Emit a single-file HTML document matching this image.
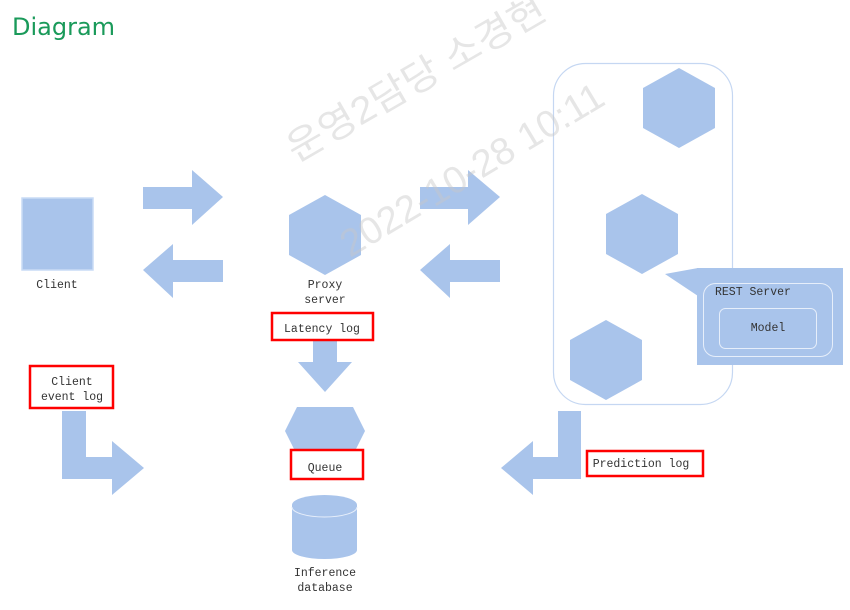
<!DOCTYPE html>
<html><head><meta charset="utf-8"><style>
html,body{margin:0;padding:0;background:#fff;width:850px;height:610px;overflow:hidden}
svg{display:block}
.m{font-family:"Liberation Mono",monospace;font-size:11.5px;fill:#333}
</style></head><body>
<svg width="850" height="610" viewBox="0 0 850 610" xmlns="http://www.w3.org/2000/svg">
<text x="12" y="35" font-family="DejaVu Sans, sans-serif" font-size="24" fill="#1a9a5a">Diagram</text>
<g fill="#a9c4eb">
<rect x="22" y="198" width="71" height="72" stroke="#c9dbf5" stroke-width="1.5"/>
<polygon points="143,187 192,187 192,170 223,197 192,225 192,209 143,209"/>
<polygon points="143,270 173,244 173,260 223,260 223,282 173,282 173,298"/>
<polygon points="325,195 361,215 361,255 325,275 289,255 289,215"/>
<polygon points="420,187 468,187 468,170 500,197 468,225 468,209 420,209"/>
<polygon points="420,270 450,244 450,260 500,260 500,282 450,282 450,298"/>
</g>
<rect x="553.5" y="63.5" width="179" height="341" rx="32" fill="none" stroke="#c5d7f2" stroke-width="1.2"/>
<g fill="#a9c4eb">
<polygon points="679,68 715,88 715,128 679,148 643,128 643,88"/>
<polygon points="642,194 678,214 678,254 642,274 606,254 606,214"/>
<polygon points="606,320 642,340 642,380 606,400 570,380 570,340"/>
<polygon points="665,274 698,268 698,296"/>
<rect x="697" y="268" width="146" height="97"/>
<polygon points="313,340 337,340 337,362 352,362 325,392 298,362 313,362"/>
<polygon points="285,431 297,407 353,407 365,431 353,455 297,455"/>
<rect x="292" y="505" width="65" height="45"/>
<ellipse cx="324.5" cy="550" rx="32.5" ry="9"/>
<ellipse cx="324.5" cy="505" rx="32.5" ry="10"/>
<path d="M292,507 A32.5,10 0 0 0 357,507" fill="none" stroke="#e6eefa" stroke-width="1"/>
<polygon points="62,411 86,411 86,457 112,457 112,441 144,468 112,495 112,479 62,479"/>
<polygon points="558,411 581,411 581,479 533,479 533,495 501,468 533,441 533,457 558,457"/>
</g>
<rect x="703.5" y="283.5" width="129" height="73" rx="12" fill="none" stroke="#e6eefa" stroke-width="1"/>
<rect x="719.5" y="308.5" width="97" height="40" rx="6" fill="none" stroke="#e6eefa" stroke-width="1"/>
<text class="m" x="715" y="295">REST Server</text>
<text class="m" x="768" y="331" text-anchor="middle">Model</text>
<text class="m" x="57" y="288" text-anchor="middle">Client</text>
<text class="m" x="325" y="288" text-anchor="middle">Proxy</text>
<text class="m" x="325" y="303" text-anchor="middle">server</text>
<g fill="#fff" stroke="#f00" stroke-width="2.5">
<rect x="272" y="313" width="101" height="27"/>
<rect x="30" y="366" width="83" height="42"/>
<rect x="291" y="450" width="72" height="29"/>
<rect x="587" y="451" width="116" height="25"/>
</g>
<text class="m" x="322" y="332" text-anchor="middle">Latency log</text>
<text class="m" x="72" y="385" text-anchor="middle">Client</text>
<text class="m" x="72" y="400" text-anchor="middle">event log</text>
<text class="m" x="325" y="471" text-anchor="middle">Queue</text>
<text class="m" x="641" y="467" text-anchor="middle">Prediction log</text>
<text class="m" x="325" y="576" text-anchor="middle">Inference</text>
<text class="m" x="325" y="591" text-anchor="middle">database</text>
<g font-family="Liberation Sans, 'Noto Sans CJK KR', sans-serif" font-size="38" fill="#c8c8c8" fill-opacity="0.45">
<text transform="translate(296,163) rotate(-30)" textLength="292" lengthAdjust="spacingAndGlyphs">운영2담당 소경현</text>
<text transform="translate(350,258) rotate(-31)" textLength="300" lengthAdjust="spacingAndGlyphs">2022-10-28 10:11</text>
</g>
</svg>
</body></html>
